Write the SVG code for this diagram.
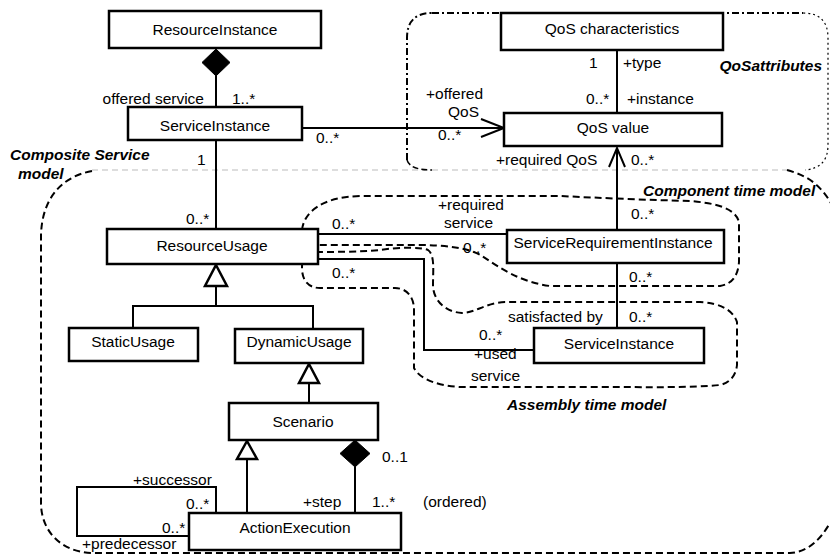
<svg xmlns="http://www.w3.org/2000/svg" width="830" height="556" viewBox="0 0 830 556">
<style>
text{font-family:"Liberation Sans",Arial,sans-serif;font-size:15.5px;fill:#000}
.c{text-anchor:middle}
.e{text-anchor:end}
.bi{font-weight:bold;font-style:italic}
.box{fill:#fff;stroke:#000;stroke-width:2.5}
.ln{fill:none;stroke:#000;stroke-width:2}
.tri{fill:#fff;stroke:#000;stroke-width:2.5;stroke-linejoin:miter}
.dia{fill:#000;stroke:#000;stroke-width:1}
.rg{fill:none;stroke:#000;stroke-width:2;stroke-dasharray:7 4}
.rgd{fill:none;stroke:#000;stroke-width:2;stroke-dasharray:7 3 2 3}
.gray{fill:none;stroke:#bbb;stroke-width:1;stroke-dasharray:6 4}
</style>
<g id="regions">
<path class="gray" d="M92,170 H787"/>
<path class="rgd" d="M432,13 H803 M407,160 V38 Q407,13 432,13"/>
<path fill="none" stroke="#000" stroke-width="1.2" stroke-dasharray="2 3" d="M803,13 Q828,13 828,38 V145 Q828,168 805,170"/>
<path fill="none" stroke="#000" stroke-width="1.5" stroke-dasharray="6 3" d="M407,160 Q410,170 432,170"/>
<path class="rg" d="M92,171 C60,177 42,200 41,235 V503 C41,530 60,552 92,553 H790 C808,552 820,540 830,523"/>
<path class="rg" d="M787,170 C805,175 820,183 832,205"/>
<path class="rg" d="M302,230 C304,212 322,197 360,196 H560 C600,198 650,200 690,201 C713,203 735,207 739,222 V262 C738,276 732,284 720,286 H550 C520,282 500,268 482,256 C470,248 445,245 420,245 H320 C308,245 301,240 302,230 Z"/>
<path class="rg" d="M305,252 C330,252 360,252 380,250 C400,247 420,247 428,250 C435,255 433,270 433,285 C433,300 445,312 462,313 C475,313 485,303 505,302 H700 C720,303 733,310 737,322 V365 C736,375 730,383 720,385 C690,388 650,387 600,387 H460 C440,386 420,380 414,368 V310 C414,295 405,288 395,288 H320 C308,288 302,280 302,268 C302,260 303,254 305,252 Z"/>
</g>
<g id="connectors">
<line class="ln" x1="216" y1="76" x2="216" y2="107"/>
<polygon class="dia" points="216,49 230,62.5 216,76 202,62.5"/>
<line class="ln" x1="302" y1="128" x2="504" y2="128"/>
<polyline class="ln" points="481,119 504,128 481,137"/>
<line class="ln" x1="617" y1="50" x2="617" y2="113"/>
<line class="ln" x1="617" y1="148" x2="617" y2="230"/>
<polyline class="ln" stroke-width="2.5" points="609,167 617,148 625,167"/>
<line class="ln" x1="216" y1="140" x2="216" y2="229"/>
<line class="ln" x1="216" y1="286" x2="216" y2="306"/>
<polyline class="ln" points="133,328 133,306 313,306 313,329"/>
<polygon class="tri" points="216,265 227,286 205,286"/>
<line class="ln" x1="318" y1="234" x2="507" y2="234"/>
<polyline class="ln" points="318,259 424,259 424,350 534,350"/>
<line class="ln" x1="617" y1="263" x2="617" y2="328"/>
<line class="ln" x1="309" y1="383" x2="309" y2="403"/>
<polygon class="tri" points="309,364 319,383 299,383"/>
<line class="ln" x1="247" y1="459" x2="247" y2="513"/>
<polygon class="tri" points="247,441 257,459 237,459"/>
<line class="ln" x1="355" y1="467" x2="355" y2="513"/>
<polygon class="dia" points="355,440 370,453.5 355,467 340,453.5"/>
<polyline class="ln" points="216,513 216,487 77,487 77,536 189,536"/>
</g>
<g id="ResourceInstance"><rect class="box" x="109" y="11" width="212" height="37"/><text class="c" x="215" y="35">ResourceInstance</text></g>
<g id="ServiceInstanceTop"><rect class="box" x="128" y="107" width="174" height="33"/><text class="c" x="215" y="130.5">ServiceInstance</text></g>
<g id="QoSCharacteristics"><rect class="box" x="501" y="13" width="222" height="37"/><text class="c" x="612" y="34">QoS characteristics</text></g>
<g id="QoSValue"><rect class="box" x="504" y="113" width="218" height="33"/><text class="c" x="613" y="132.5">QoS value</text></g>
<g id="ResourceUsage"><rect class="box" x="107" y="229" width="211" height="35"/><text class="c" x="212" y="250.5">ResourceUsage</text></g>
<g id="ServiceRequirementInstance"><rect class="box" x="507" y="230" width="217" height="33"/><text class="c" x="613" y="247.5">ServiceRequirementInstance</text></g>
<g id="StaticUsage"><rect class="box" x="69" y="328" width="129" height="33"/><text class="c" x="133" y="346.5">StaticUsage</text></g>
<g id="DynamicUsage"><rect class="box" x="235" y="329" width="128" height="34"/><text class="c" x="299" y="346.5">DynamicUsage</text></g>
<g id="ServiceInstanceLower"><rect class="box" x="534" y="328" width="170" height="35"/><text class="c" x="619" y="348.5">ServiceInstance</text></g>
<g id="Scenario"><rect class="box" x="229" y="403" width="149" height="37"/><text class="c" x="303" y="426.5">Scenario</text></g>
<g id="ActionExecution"><rect class="box" x="189" y="513" width="212" height="37"/><text class="c" x="295" y="532.5">ActionExecution</text></g>
<g id="labels">
<text class="e" x="204" y="103.5">offered service</text>
<text x="232" y="103.5">1..*</text>
<text x="316" y="142.5">0..*</text>
<text x="426" y="98.5">+offered</text>
<text x="448" y="116.5">QoS</text>
<text x="438" y="139.5">0..*</text>
<text x="589" y="68">1</text>
<text x="623" y="68">+type</text>
<text x="586" y="103.5">0..*</text>
<text x="627" y="103.5">+instance</text>
<text class="bi e" x="822" y="70.5">QoSattributes</text>
<text x="496" y="164.5">+required QoS</text>
<text x="631" y="164.5">0..*</text>
<text x="197" y="165">1</text>
<text class="bi" x="10" y="159.5">Composite Service</text>
<text class="bi" x="18" y="178.5">model</text>
<text x="186" y="223.5">0..*</text>
<text x="332" y="228.5">0..*</text>
<text x="438" y="210">+required</text>
<text x="444" y="228">service</text>
<text x="463" y="252.5">0..*</text>
<text x="631" y="218.5">0..*</text>
<text class="bi" x="643" y="195.5">Component time model</text>
<text x="332" y="277.5">0..*</text>
<text x="629" y="282">0..*</text>
<text x="508" y="321.5">satisfacted by</text>
<text x="629" y="321.5">0..*</text>
<text x="479" y="339.5">0..*</text>
<text x="474" y="358.5">+used</text>
<text x="471" y="380.5">service</text>
<text class="bi" x="507" y="410">Assembly time model</text>
<text x="382" y="461.5">0..1</text>
<text x="133" y="484.5">+successor</text>
<text x="186" y="508.5">0..*</text>
<text x="303" y="506.5">+step</text>
<text x="372" y="506.5">1..*</text>
<text x="423" y="506.5">(ordered)</text>
<text x="162" y="532.5">0..*</text>
<text x="82" y="548.5">+predecessor</text>
</g>
</svg>
